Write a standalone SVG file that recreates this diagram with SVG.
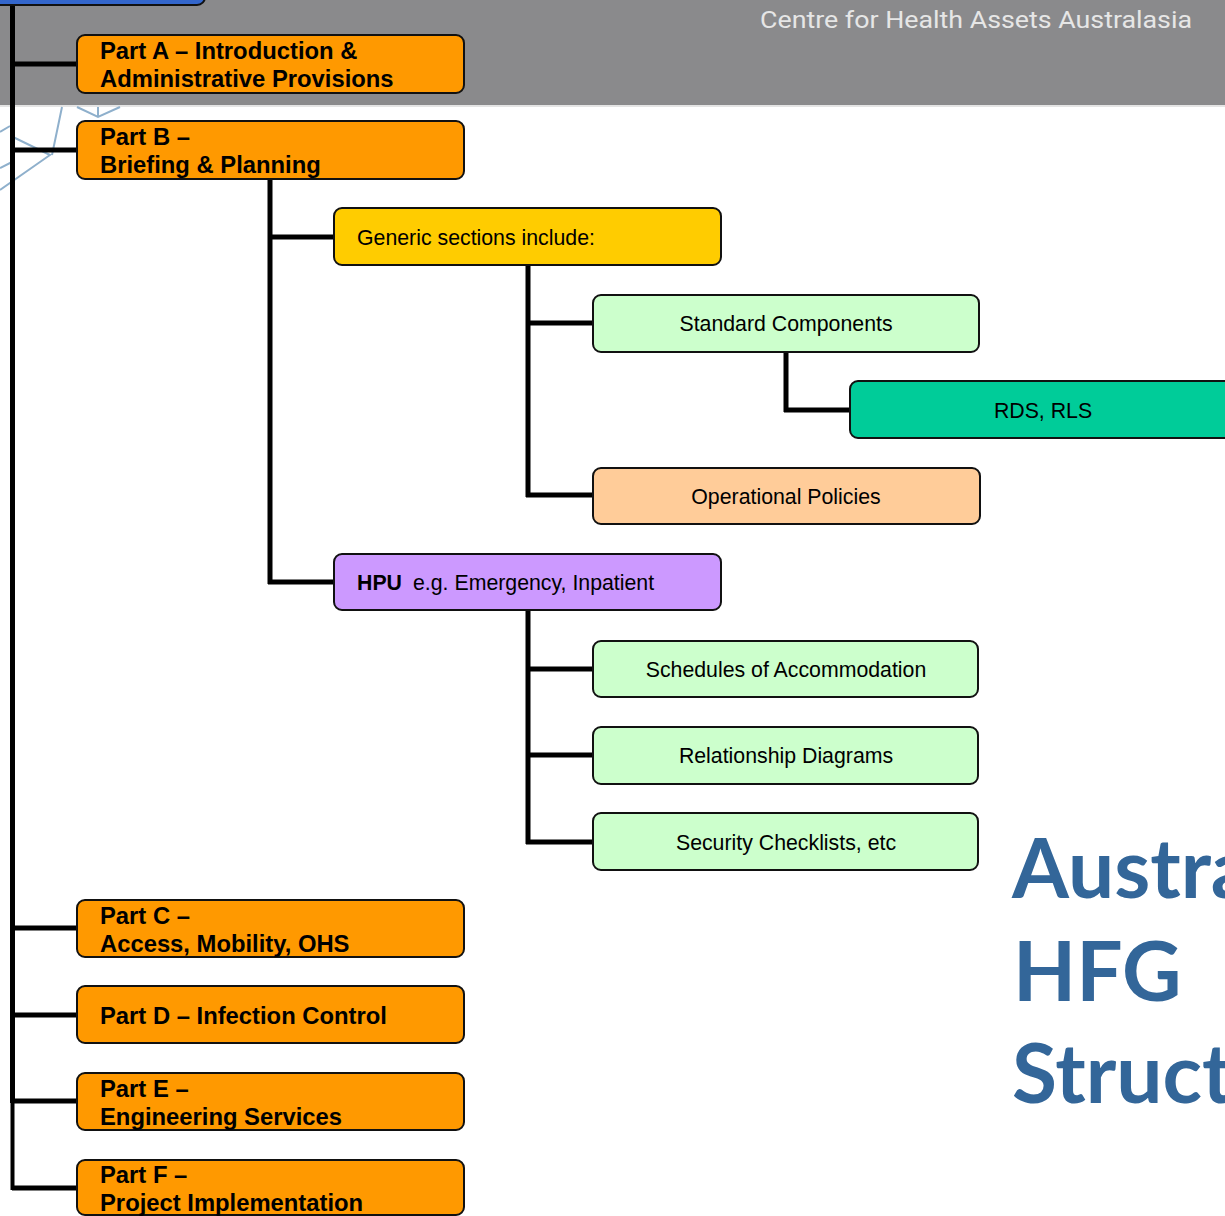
<svg xmlns="http://www.w3.org/2000/svg" width="1225" height="1216" viewBox="0 0 1225 1216">
<style>
.box{stroke:#111;stroke-width:2}
.bt{font-family:"Liberation Sans",Arial,sans-serif;font-weight:bold;font-size:23.8px;fill:#000}
.nt{font-family:"Liberation Sans",Arial,sans-serif;font-size:21.3px;fill:#000}
.ct{text-anchor:middle}
.conn{fill:none;stroke:#000;stroke-width:5;stroke-linejoin:miter;stroke-linecap:butt}
.logo{fill:none;stroke:#8fb0cc;stroke-width:2}
.title{font-family:"Lato","Open Sans",sans-serif;font-weight:bold;font-size:82px;fill:#336699}
</style>
<rect width="1225" height="1216" fill="#fff"/>
<g id="background">
<rect x="0" y="0" width="1225" height="105" fill="#8a8a8c"/>
<rect x="0" y="105" width="1225" height="2" fill="#e4e4e4"/>
<text x="760" y="28" font-family="Roboto,'DejaVu Sans',sans-serif" font-size="24" fill="#e6e6e6" textLength="432" lengthAdjust="spacingAndGlyphs">Centre for Health Assets Australasia</text>
<path class="logo" d="M62 107 L52 155 M13 137 L50 155 L0 190 M0 132 L10 126 M77 107 L98 117 L120 107 M98 117 L98 107 M0 168 L12 162 L13 137"/>
<text class="title" x="1012" y="898">Austra</text>
<text class="title" x="1013" y="1001">HFG</text>
<text class="title" x="1012" y="1103">Struct</text>
</g>
<g id="connectors">
<path class="conn" d="M12.5 0 V1103"/>
<path class="conn" style="stroke-width:4" d="M12.5 1101 V1190"/>
<path class="conn" d="M12 64 H77 M12 150 H77 M12 928 H77 M12 1015 H77 M12 1101 H77 M12 1188 H77"/>
<path class="conn" d="M270 179 V584 M268 237 H334 M268 582 H334"/>
<path class="conn" d="M528 265 V497 M526 323 H593 M526 495 H593"/>
<path class="conn" d="M786 352 V412 M784 410 H850"/>
<path class="conn" d="M528 610 V844 M526 669 H593 M526 755 H593 M526 842 H593"/>
</g>
<g id="top-node"><rect class="box" x="-10" y="-20" width="215" height="25" rx="8" fill="#3366cc"/></g>
<g id="part-a"><rect class="box" x="77" y="35" width="387" height="58" rx="8" fill="#ff9900"/>
<text class="bt" x="100" y="59">Part A – Introduction &amp;</text><text class="bt" x="100" y="87">Administrative Provisions</text></g>
<g id="part-b"><rect class="box" x="77" y="121" width="387" height="58" rx="8" fill="#ff9900"/>
<text class="bt" x="100" y="145">Part B –</text><text class="bt" x="100" y="173">Briefing &amp; Planning</text></g>
<g id="generic"><rect class="box" x="334" y="208" width="387" height="57" rx="8" fill="#ffcc00"/>
<text class="nt" x="357" y="245">Generic sections include:</text></g>
<g id="standard"><rect class="box" x="593" y="295" width="386" height="57" rx="8" fill="#ccffcc"/>
<text class="nt ct" x="786" y="331">Standard Components</text></g>
<g id="rds"><rect class="box" x="850" y="381" width="390" height="57" rx="8" fill="#00cc99"/>
<text class="nt ct" x="1043" y="418">RDS, RLS</text></g>
<g id="operational"><rect class="box" x="593" y="468" width="387" height="56" rx="8" fill="#ffcc99"/>
<text class="nt ct" x="786" y="504">Operational Policies</text></g>
<g id="hpu"><rect class="box" x="334" y="554" width="387" height="56" rx="8" fill="#cc99ff"/>
<text class="nt" x="357" y="590"><tspan font-weight="bold">HPU</tspan><tspan x="413">e.g. Emergency, Inpatient</tspan></text></g>
<g id="schedules"><rect class="box" x="593" y="641" width="385" height="56" rx="8" fill="#ccffcc"/>
<text class="nt ct" x="786" y="677">Schedules of Accommodation</text></g>
<g id="relationship"><rect class="box" x="593" y="727" width="385" height="57" rx="8" fill="#ccffcc"/>
<text class="nt ct" x="786" y="763">Relationship Diagrams</text></g>
<g id="security"><rect class="box" x="593" y="813" width="385" height="57" rx="8" fill="#ccffcc"/>
<text class="nt ct" x="786" y="850">Security Checklists, etc</text></g>
<g id="part-c"><rect class="box" x="77" y="900" width="387" height="57" rx="8" fill="#ff9900"/>
<text class="bt" x="100" y="924">Part C –</text><text class="bt" x="100" y="952">Access, Mobility, OHS</text></g>
<g id="part-d"><rect class="box" x="77" y="986" width="387" height="57" rx="8" fill="#ff9900"/>
<text class="bt" x="100" y="1024">Part D – Infection Control</text></g>
<g id="part-e"><rect class="box" x="77" y="1073" width="387" height="57" rx="8" fill="#ff9900"/>
<text class="bt" x="100" y="1097">Part E –</text><text class="bt" x="100" y="1125">Engineering Services</text></g>
<g id="part-f"><rect class="box" x="77" y="1160" width="387" height="55" rx="8" fill="#ff9900"/>
<text class="bt" x="100" y="1183">Part F –</text><text class="bt" x="100" y="1211">Project Implementation</text></g>
</svg>
